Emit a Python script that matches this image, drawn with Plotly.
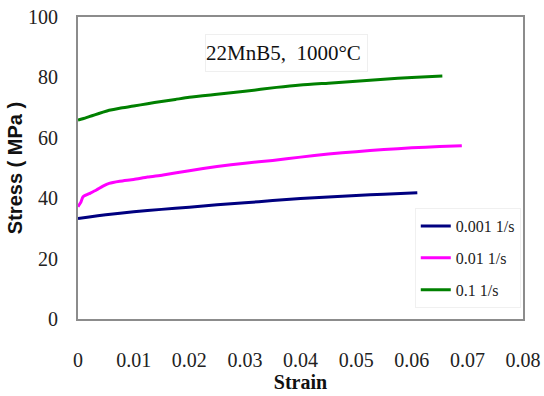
import plotly.graph_objects as go

# Flow curves of 22MnB5 at 1000 °C for three strain rates
strain_slow = [0, 0.002, 0.005, 0.01, 0.015, 0.02, 0.025, 0.03, 0.035, 0.04, 0.045, 0.05, 0.055, 0.061]
stress_slow = [33.3, 33.8, 34.5, 35.5, 36.3, 37.0, 37.8, 38.5, 39.2, 39.9, 40.4, 40.9, 41.3, 41.8]

strain_mid = [0, 0.0005, 0.0009, 0.002, 0.0033, 0.0045, 0.0056, 0.0075, 0.01, 0.0125, 0.0153,
              0.02, 0.025, 0.03, 0.035, 0.04, 0.045, 0.05, 0.055, 0.06, 0.065, 0.069]
stress_mid = [37.2, 38.6, 40.5, 41.5, 42.7, 44.0, 44.9, 45.6, 46.2, 47.0, 47.7,
              49.1, 50.5, 51.6, 52.5, 53.6, 54.6, 55.4, 56.1, 56.7, 57.1, 57.4]

strain_fast = [0, 0.001, 0.002, 0.003, 0.0045, 0.0056, 0.0075, 0.01, 0.0125, 0.015, 0.0175,
               0.02, 0.025, 0.03, 0.0357, 0.04, 0.045, 0.05, 0.055, 0.06, 0.0655]
stress_fast = [65.9, 66.4, 67.0, 67.6, 68.5, 69.1, 69.8, 70.5, 71.3, 72.0, 72.7,
               73.4, 74.4, 75.4, 76.7, 77.5, 78.1, 78.7, 79.4, 80.0, 80.5]

series = [
    ("0.001 1/s", strain_slow, stress_slow, "#000080"),
    ("0.01 1/s", strain_mid, stress_mid, "#ff00ff"),
    ("0.1 1/s", strain_fast, stress_fast, "#008000"),
]

x_ticks = [0, 0.01, 0.02, 0.03, 0.04, 0.05, 0.06, 0.07, 0.08]
x_labels = ["0", "0.01", "0.02", "0.03", "0.04", "0.05", "0.06", "0.07", "0.08"]
y_ticks = [0, 20, 40, 60, 80, 100]

SERIF = "Liberation Serif, Times New Roman, serif"
SANS = "Liberation Sans, Arial, sans-serif"

fig = go.Figure()
for i, (name, xs, ys, color) in enumerate(series):
    fig.add_trace(go.Scatter(
        x=xs, y=ys, mode="lines", name=name, legendgroup=f"g{i}",
        line=dict(color=color, width=3, shape="spline", smoothing=0.6),
    ))

fig.update_layout(
    width=544, height=396,
    margin=dict(l=78, r=21, t=17, b=77, autoexpand=False),
    paper_bgcolor="white", plot_bgcolor="white",
    showlegend=True,
    legend=dict(
        x=0.995, y=0.367, xanchor="right", yanchor="top",
        bgcolor="white", bordercolor="#f0f0f0", borderwidth=1,
        font=dict(family=SERIF, size=16, color="#222"),
        tracegroupgap=8, itemwidth=30,
    ),
    xaxis=dict(
        range=[0, 0.08], tickvals=x_ticks, ticktext=x_labels,
        showgrid=False, zeroline=False, automargin=False,
        showline=True, linecolor="#8c8c8c", linewidth=2, mirror=True,
        ticks="", ticklabelstandoff=22,
        tickfont=dict(family=SERIF, size=20, color="#222"),
        title=dict(text="<b>Strain</b>", font=dict(family=SERIF, size=20, color="#111"),
                   standoff=3),
    ),
    yaxis=dict(
        range=[0, 100], tickvals=y_ticks,
        showgrid=False, zeroline=False, automargin=False,
        showline=True, linecolor="#8c8c8c", linewidth=2, mirror=True,
        ticks="", ticklabelstandoff=14,
        tickfont=dict(family=SERIF, size=20, color="#222"),
        title=dict(text="<b>Stress ( MPa )</b>", font=dict(family=SANS, size=20, color="#111"),
                   standoff=0),
    ),
)

fig.add_annotation(
    text="22MnB5,  1000°C", xref="paper", yref="paper",
    x=(205 - 78) / 445, y=(319 - 53) / 302, xanchor="left", yanchor="middle",
    showarrow=False, align="left", width=161, height=36,
    bordercolor="#efefef", borderwidth=1, bgcolor="white", borderpad=0,
    font=dict(family=SERIF, size=21, color="#111"),
)

fig.write_html("out.html")
